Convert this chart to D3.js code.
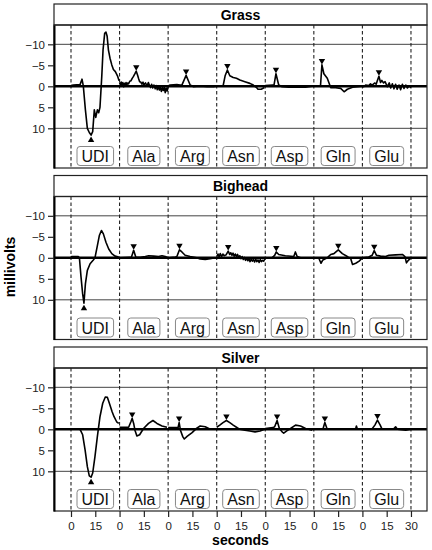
<!DOCTYPE html>
<html>
<head>
<meta charset="utf-8">
<script src="https://cdn.jsdelivr.net/npm/d3@7"></script>
<style>
body { margin:0; background:#fff; }
svg { display:block; font-family:"Liberation Sans", Arial, sans-serif; }
</style>
</head>
<body>
<div id="chart"></div>
<script>
var panels = ["Grass", "Bighead", "Silver"];
var segments = ["UDI", "Ala", "Arg", "Asn", "Asp", "Gln", "Glu"];
var yTicks = [-10, -5, 0, 5, 10];
var gridValues = [-10, 10];
var xTickValues = [0, 15, 30, 45, 60, 75, 90, 105, 120, 135, 150, 165, 180, 195, 210];
var xTickLabels = ["0", "15", "0", "15", "0", "15", "0", "15", "0", "15", "0", "15", "0", "15", "30"];

// traces, one per segment, [seconds into segment, millivolts]
var grassTraces = [
  [[0,-0.2],[1.4,-0.3],[5.6,-0.4],[6.8,-1.7],[7.6,-0.1],[8.9,5.6],[10.1,10.0],[11.3,11.0],[12.4,11.6],[13.4,10.8],[14.4,5.6],[15.3,7.4],[16.3,5.6],[17.1,6.3],[17.9,5.0],[19.0,-2.3],[19.8,-8.7],[20.8,-12.6],[21.6,-12.9],[22.3,-12.0],[23.1,-8.7],[24.1,-6.7],[25.2,-5.1],[26.2,-4.0],[27.4,-3.5],[28.7,-2.5],[29.7,-1.3]],
  [[0,-0.9],[0.5,-0.3],[1,-1.0],[1.5,-0.4],[2,-0.9],[2.5,0.1],[3,-0.7],[3.5,-0.2],[4,-0.9],[4.5,-0.3],[5,-0.8],[5.6,-0.6],[6.3,-1.2],[7.0,-1.3],[7.8,-1.9],[8.5,-2.3],[9.5,-3.0],[10.3,-3.6],[11.1,-2.7],[11.8,-1.8],[12.4,-1.1],[13.1,-1.0],[13.8,-0.5],[14.5,-1.0],[15.0,-0.3],[16,-0.8],[17.0,-0.1],[17.8,-0.9],[18.5,-0.2],[19.2,0.3],[19.8,-0.5],[20.5,0.4],[21.2,-0.3],[22,0.6],[22.6,-0.2],[23.3,0.8],[24,0.1],[24.6,0.9],[25.2,0.2],[25.8,1.2],[26.4,0.3],[27,1.0],[27.6,0.2],[28.2,1.5],[28.8,0.4],[29.4,1.1],[30,0.2]],
  [[0,-0.1],[1.2,-0.3],[5.4,-0.4],[7.4,-0.3],[8.5,-0.3],[11.1,-2.6],[13.6,-0.3],[15.7,0.1],[19.8,0.0],[24,0.1],[28,0.1],[30,0.0]],
  [[0,0],[4.0,-0.2],[5.2,-2.5],[6.6,-3.9],[8.1,-2.5],[10.2,-2.1],[12.2,-1.9],[14.3,-1.5],[17.4,-1.1],[20.5,-0.7],[22.6,-0.3],[24.6,0.3],[25.5,0.7],[27.5,0.7],[29.5,0.3]],
  [[0,-0.2],[4.6,-0.3],[5.4,-0.3],[6.6,-3.0],[8.3,-0.3],[10.4,0.1],[14.5,0.2],[20.7,0.2],[24.9,0.2],[29,0]],
  [[0,0],[4.1,0],[5.0,-5.1],[6.2,-3.0],[8.3,-1.9],[10.4,0.3],[12.4,0.3],[16.6,0.5],[18.7,1.3],[20.7,0.7],[23.9,0.2],[27,0.1],[30,0]],
  [[0,0],[0.8,0.1],[2,-0.3],[3.9,-0.2],[5,-0.6],[6.0,-0.3],[7.7,-0.8],[8.5,-0.5],[9.1,-1.2],[10.2,-2.4],[11.2,-0.9],[12,-1.4],[13.1,-0.8],[14,-1.1],[15.4,0.1],[16.6,-0.8],[17.5,0.4],[18.5,-0.6],[19.5,0.6],[20.5,-0.5],[21.5,0.7],[22.6,-0.3],[23.6,0.8],[24.7,-0.5],[25.7,0.5],[26.8,-0.3],[27.8,0.4],[28.8,-0.1],[30,0.3]]
];
var bigheadTraces = [
  [[0,-0.2],[0.4,-0.3],[4.5,-0.3],[5.2,0],[6.2,4.6],[7.2,8.6],[8.0,10.8],[8.9,6.2],[10.1,3.0],[11.8,1.4],[13.8,0.5],[14.8,0],[16.3,-2.9],[17.5,-5.3],[18.8,-6.5],[20,-5.7],[21.6,-3.7],[23.3,-2.1],[25.2,-1.0],[27.2,-0.4],[29.5,-0.2]],
  [[0,0],[0.4,0],[6.6,-0.1],[7.2,0],[8.7,-1.8],[10.1,-0.1],[12.8,-0.1],[15.9,-0.3],[18.0,-0.5],[21.0,-0.4],[24.1,-0.3],[26.2,-0.5],[28.2,-0.3],[29.9,0]],
  [[0,0],[0.4,0],[4.5,-0.2],[5.4,-0.3],[7.0,-1.9],[8.5,-1.4],[10.5,-0.6],[13.6,-0.3],[17.7,0],[19.8,0.3],[22.9,0.4],[26,0.2],[29,0]],
  [[0,-0.3],[0.8,-0.9],[1.5,-0.2],[2.2,-1.0],[3.0,-0.3],[3.8,-0.9],[4.6,-0.5],[5.8,-0.7],[7.1,-1.6],[8.0,-0.8],[8.7,-1.2],[9.4,-0.6],[10.1,-1.1],[10.8,-0.4],[11.5,-0.9],[12.2,-0.3],[12.9,-0.8],[13.6,0],[14.3,-0.5],[15.0,0.2],[15.7,-0.3],[16.4,0.4],[17.1,-0.1],[17.8,0.6],[18.5,0.1],[19.2,0.7],[19.9,0.2],[20.6,0.9],[21.3,0.3],[22,0.8],[22.7,0.4],[23.4,1.0],[24.1,0.3],[24.8,0.9],[25.5,0.5],[26.2,1.1],[26.9,0.4],[27.6,0.9],[28.3,0.6],[29.0,0.8],[29.7,0.3]],
  [[0,0],[4.1,0],[5.8,-0.6],[6.8,-1.4],[8.3,-0.8],[12.4,-0.5],[17.6,-0.3],[18.6,-1.4],[19.7,-0.3],[21.8,0],[29,0]],
  [[0,0],[3.1,0.1],[4.4,1.3],[5.6,0.5],[8.3,0],[10.4,-0.8],[12.4,-1.0],[15.1,-1.9],[17.6,-1.0],[20.7,-0.3],[22.8,0.2],[23.9,1.6],[25.9,1.3],[28,0.8],[30,0]],
  [[0,0],[3.9,-0.2],[6.0,-0.6],[7.3,-1.7],[8.7,-0.6],[11.2,-0.4],[14.3,-0.3],[16.4,-0.6],[20.5,-0.7],[24.7,-0.8],[26.3,-0.3],[27.2,1.2],[28.4,0.6],[29.9,0]]
];
var silverTraces = [
  [[0,0],[5.6,0],[7.2,1.3],[8.7,4.9],[10.1,8.9],[11.3,11.1],[12.4,11.4],[13.4,10.4],[14.8,6.5],[16.3,1.7],[17.9,-3.0],[19.6,-6.2],[21.2,-7.7],[22.5,-7.6],[23.7,-6.2],[25.4,-4.2],[26.6,-3.0],[28.2,-1.8],[29.5,-1.4]],
  [[0,-0.5],[5.6,-0.5],[7.0,-1.8],[7.8,-2.6],[8.7,-1.4],[9.5,0.2],[10.7,1.6],[12.4,1.3],[14.8,-0.2],[17.9,-1.4],[20.6,-2.1],[23.1,-1.4],[26.2,-0.8],[29.3,-0.5]],
  [[0,-0.4],[5.4,-0.4],[6.2,-0.5],[6.8,-1.6],[7.6,0.2],[9.1,1.8],[10.0,2.3],[11.7,1.7],[14.8,0.8],[17.7,-0.3],[19.8,-0.8],[22.9,-0.6],[26,0],[29,0]],
  [[0,-0.5],[1.9,-1.0],[3.9,-1.6],[6.0,-2.1],[8.1,-1.6],[10.2,-1.0],[12.2,-0.5],[14.3,0],[17.4,0.2],[20.5,0.4],[23.7,0.6],[26.8,0.4],[29.6,0]],
  [[0,-0.2],[4.8,-0.4],[5.8,-0.6],[7.3,-2.1],[8.7,-0.2],[10.4,0.6],[11.4,0.9],[13.5,0.3],[15.6,-0.2],[18.7,-1.0],[21.8,-0.8],[24.9,-0.2],[29,0.2]],
  [[0,0],[5.6,0],[6.8,-1.6],[8.1,-0.2],[11.4,0],[17.6,0],[25.9,-0.2],[26.3,-0.8],[26.9,0],[30,0]],
  [[0,0],[5.8,0],[7.7,-1.0],[9.3,-2.2],[11.0,-1.0],[12.2,0],[16.4,0],[19.5,-0.2],[20.5,-0.6],[21.6,0],[26.8,0.2],[29.9,0]]
];
var allTraces = [grassTraces, bigheadTraces, silverTraces];

// peak markers per segment
var grassMarkT = [12.4, 10.3, 11.1, 6.6, 6.6, 5.0, 10.2];
var grassMarkV = [11.6, -3.6, -2.6, -3.9, -3.0, -5.1, -2.4];
var bigheadMarkT = [8.0, 8.7, 7.0, 7.1, 6.8, 15.1, 7.3];
var bigheadMarkV = [10.8, -1.8, -1.9, -1.6, -1.4, -1.9, -1.7];
var silverMarkT = [12.4, 7.8, 6.8, 6.0, 7.3, 6.8, 9.3];
var silverMarkV = [11.4, -2.6, -1.6, -2.1, -2.1, -1.6, -2.2];
var markT = [grassMarkT, bigheadMarkT, silverMarkT];
var markV = [grassMarkV, bigheadMarkV, silverMarkV];

var segLen = 30;
var width = 432, height = 550;
var left = 54, right = 427;
var panelTop = [4, 175.5, 347];
var headH = 21, plotH = 143;

window.onload = function(){
    var svg = d3.select("#chart").append("svg")
        .attr("width", width)
        .attr("height", height);

    var x = d3.scaleLinear().domain([-10.5, 219.9]).range([left, right]);

    for (var p = 0; p < panels.length; p++)
        drawPanel(svg, x, p);

    // bottom axis on the last panel
    var bottom = panelTop[2] + headH + plotH;
    var xAxis = svg.append("g")
        .attr("transform", "translate(0," + bottom + ")")
        .call(d3.axisBottom(x).tickValues(xTickValues)
            .tickFormat(function(d, i){ return xTickLabels[i]; })
            .tickSize(6).tickSizeOuter(0));
    xAxis.select(".domain").remove();
    xAxis.selectAll("line").attr("stroke", "#222").attr("stroke-width", 1.2);
    xAxis.selectAll("text").attr("font-size", 11.5).attr("fill", "#222")
        .attr("font-family", "Liberation Sans, Arial, sans-serif").attr("dy", "0.85em");

    svg.append("text")
        .attr("x", (left + right) / 2)
        .attr("y", 545)
        .attr("text-anchor", "middle")
        .attr("font-weight", "bold")
        .attr("font-size", 14)
        .text("seconds");

    svg.append("text")
        .attr("transform", "translate(15,267) rotate(-90)")
        .attr("text-anchor", "middle")
        .attr("font-weight", "bold")
        .attr("font-size", 14)
        .text("millivolts");
};

function drawPanel(svg, x, p){
    var top = panelTop[p] + headH;
    var bot = top + plotH;
    var y = d3.scaleLinear().domain([-14.6, 19.45]).range([top, bot]);
    var g = svg.append("g");

    // strip header
    g.append("rect")
        .attr("x", left).attr("y", panelTop[p])
        .attr("width", right - left).attr("height", headH)
        .attr("fill", "#fff").attr("stroke", "#222").attr("stroke-width", 1.2);
    g.append("text")
        .attr("x", (left + right) / 2)
        .attr("y", panelTop[p] + headH / 2 + 5)
        .attr("text-anchor", "middle")
        .attr("font-weight", "bold")
        .attr("font-size", 14)
        .text(panels[p]);

    g.selectAll(".grid").data(gridValues).enter().append("line")
        .attr("x1", left).attr("x2", right)
        .attr("y1", function(d){ return y(d); })
        .attr("y2", function(d){ return y(d); })
        .attr("stroke", "#444").attr("stroke-width", 1);

    var bounds = d3.range(0, segments.length + 1).map(function(i){ return i * segLen; });
    g.selectAll(".sep").data(bounds).enter().append("line")
        .attr("x1", function(d){ return x(d); })
        .attr("x2", function(d){ return x(d); })
        .attr("y1", top).attr("y2", bot)
        .attr("stroke", "#222").attr("stroke-width", 1.1)
        .attr("stroke-dasharray", "3.5,2.5");

    g.append("line")
        .attr("x1", left).attr("x2", right)
        .attr("y1", y(0)).attr("y2", y(0))
        .attr("stroke", "#000").attr("stroke-width", 2.6);

    var line = d3.line()
        .x(function(d){ return x(d[0]); })
        .y(function(d){ return y(d[1]); });
    allTraces[p].forEach(function(tr, i){
        var pts = tr.map(function(d){ return [d[0] + i * segLen, d[1]]; });
        g.append("path")
            .attr("d", line(pts))
            .attr("fill", "none")
            .attr("stroke", "#000")
            .attr("stroke-width", 1.6)
            .attr("stroke-linejoin", "round");
    });

    // peak triangles
    markT[p].forEach(function(t, i){
        var v = markV[p][i];
        var cx = x(t + i * segLen), cy = y(v);
        var pts;
        if (v > 0)
            pts = [[cx, cy + 1.5], [cx - 3.2, cy + 7], [cx + 3.2, cy + 7]];
        else
            pts = [[cx, cy - 0.5], [cx - 3.2, cy - 6], [cx + 3.2, cy - 6]];
        g.append("path")
            .attr("d", "M" + pts.join("L") + "Z")
            .attr("fill", "#000");
    });

    // segment label boxes
    segments.forEach(function(s, i){
        var cx = x(i * segLen + segLen / 2), cy = bot - 12;
        var lab = g.append("g");
        var rect = lab.append("rect");
        var txt = lab.append("text")
            .attr("x", cx).attr("y", cy + 6)
            .attr("text-anchor", "middle")
            .attr("font-size", 16)
            .attr("fill", "#111")
            .text(s);
        var w = txt.node().getComputedTextLength() + 9;
        rect.attr("x", cx - w / 2).attr("y", cy - 9.5)
            .attr("width", w).attr("height", 19)
            .attr("rx", 3).attr("ry", 3)
            .attr("fill", "#fff").attr("stroke", "#888").attr("stroke-width", 1);
    });

    // frame
    g.append("rect")
        .attr("x", left).attr("y", top)
        .attr("width", right - left).attr("height", plotH)
        .attr("fill", "none").attr("stroke", "#222").attr("stroke-width", 1.2);

    var yAxis = g.append("g")
        .attr("transform", "translate(" + left + ",0)")
        .call(d3.axisLeft(y).tickValues(yTicks).tickSize(6).tickSizeOuter(0));
    yAxis.select(".domain").attr("stroke", "#000").attr("stroke-width", 2);
    yAxis.selectAll("line").attr("stroke", "#222").attr("stroke-width", 1.2);
    yAxis.selectAll("text").attr("font-size", 11.5).attr("fill", "#222")
        .attr("font-family", "Liberation Sans, Arial, sans-serif");
}
</script>
</body>
</html>
